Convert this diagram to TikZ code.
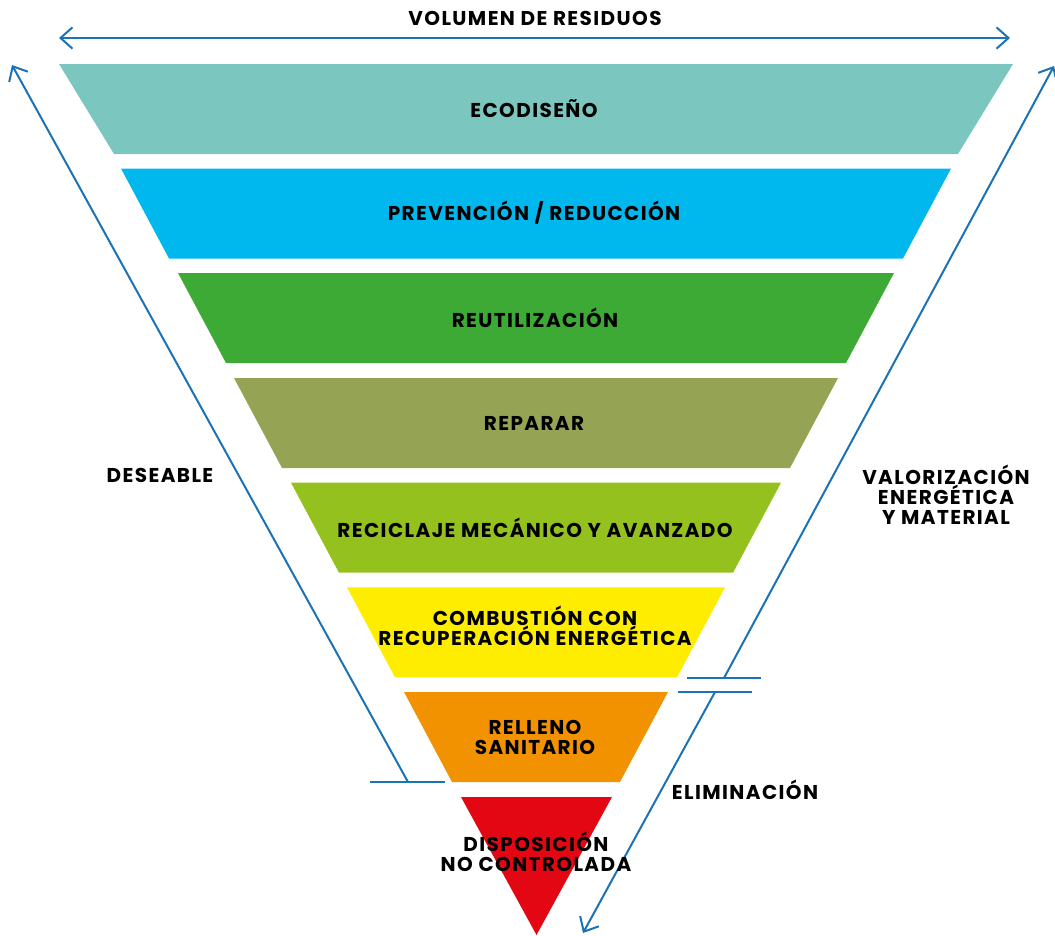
\documentclass[tikz,border=0pt]{standalone}
\usepackage{fontspec}
\setmainfont{Poppins}[BoldFont={Poppins Bold}, LetterSpace=7]
\usetikzlibrary{arrows.meta}
\definecolor{arr}{HTML}{1B72B5}
\definecolor{cEco}{HTML}{7CC6C0}
\definecolor{cPre}{HTML}{00B7EE}
\definecolor{cReu}{HTML}{3DAA35}
\definecolor{cRep}{HTML}{95A355}
\definecolor{cRec}{HTML}{95C11F}
\definecolor{cCom}{HTML}{FFED00}
\definecolor{cRel}{HTML}{F39200}
\definecolor{cDis}{HTML}{E30613}
\begin{document}
\begin{tikzpicture}[x=0.75pt,y=-0.75pt,
  lbl/.style={font=\bfseries\fontsize{15}{15}\selectfont, align=center, text=black, inner sep=0pt},
  arrowline/.style={draw=arr, line width=1.5pt},
  barb/.tip={Straight Barb[length=9pt,width=16pt,line width=1.5pt]}]
\useasboundingbox (0,0) rectangle (1055,935);
% bands
\fill[cEco] (59,64) -- (1013,64) -- (958,154) -- (114,154) -- cycle;
\fill[cPre] (121,168.5) -- (951,168.5) -- (903,258.5) -- (169,258.5) -- cycle;
\fill[cReu] (178,273) -- (894,273) -- (846,363) -- (226,363) -- cycle;
\fill[cRep] (234,378) -- (838,378) -- (790,468) -- (282,468) -- cycle;
\fill[cRec] (291,482.7) -- (781,482.7) -- (733,572.7) -- (339,572.7) -- cycle;
\fill[cCom] (347,587.4) -- (725,587.4) -- (677,677.4) -- (395,677.4) -- cycle;
\fill[cRel] (404,692) -- (668,692) -- (620,782) -- (452,782) -- cycle;
\fill[cDis] (461,797) -- (612,797) -- (536.5,935) -- cycle;
% coordinates
\coordinate (vL) at (59,38);
\coordinate (vR) at (1010,38);
\coordinate (dA) at (408,782);
\coordinate (dB) at (12,65);
\coordinate (lt1) at (370,782);
\coordinate (lt2) at (445,782);
\coordinate (rA) at (724,678);
\coordinate (rB) at (1054,66);
\coordinate (ut1) at (687,678);
\coordinate (ut2) at (761,678);
\coordinate (bt1) at (678,692);
\coordinate (bt2) at (752,692);
\coordinate (rC) at (715,692);
\coordinate (rD) at (583,933);
% arrows
\draw[arrowline, barb-barb] (vL) -- (vR);
\draw[arrowline, -barb] (dA) -- (dB);
\draw[arrowline] (lt1) -- (lt2);
\draw[arrowline, -barb] (rA) -- (rB);
\draw[arrowline] (ut1) -- (ut2);
\draw[arrowline] (bt1) -- (bt2);
\draw[arrowline, -barb] (rC) -- (rD);
% labels
\node[lbl] (vol) at (535,18.5) {VOLUMEN DE RESIDUOS};
\node[lbl] (eco) at (534,109) {ECODISEÑO};
\node[lbl] (pre) at (534,213) {PREVENCIÓN / REDUCCIÓN};
\node[lbl] (reu) at (535,318) {REUTILIZACIÓN};
\node[lbl] (rep) at (534,423) {REPARAR};
\node[lbl] (rec) at (535,528) {RECICLAJE MECÁNICO Y AVANZADO};
\node[lbl] (com) at (535,626) {COMBUSTIÓN CON\\RECUPERACIÓN ENERGÉTICA};
\node[lbl] (rel) at (535,737) {RELLENO\\SANITARIO};
\node[lbl] (dis) at (536,852) {DISPOSICIÓN\\NO CONTROLADA};
\node[lbl] (des) at (160,475) {DESEABLE};
\node[lbl] (val) at (946,495) {VALORIZACIÓN\\ENERGÉTICA\\Y MATERIAL};
\node[lbl] (eli) at (745,790) {ELIMINACIÓN};
\end{tikzpicture}
\end{document}
